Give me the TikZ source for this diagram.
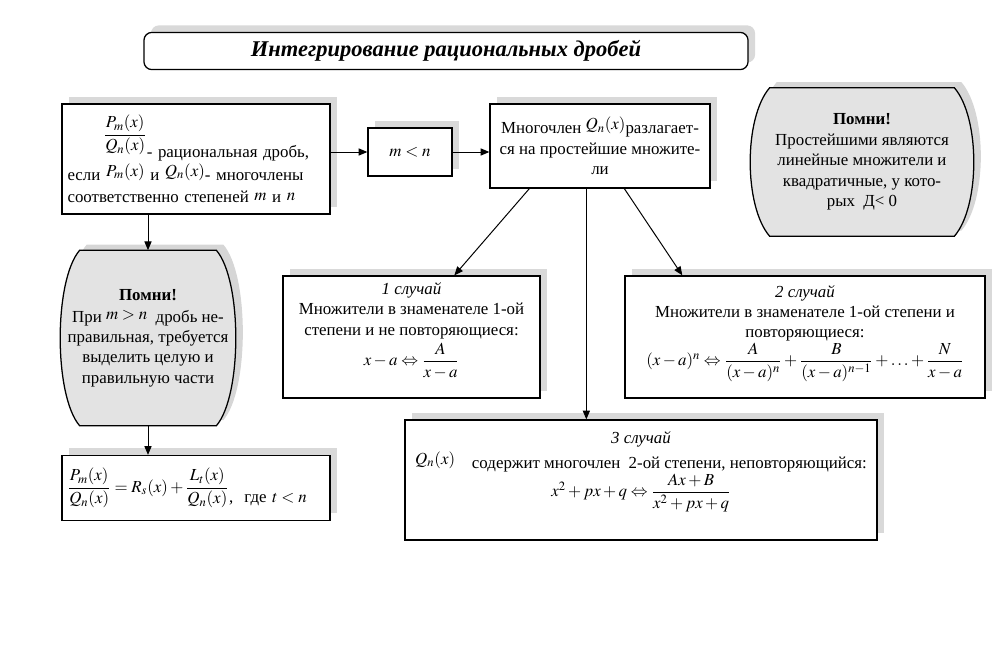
\documentclass[tikz,border=0pt]{standalone}
\usepackage{amsmath}
\usepackage{mathptmx}
\usepackage{fontspec}
\setmainfont{Liberation Serif}
\usetikzlibrary{positioning,arrows.meta,calc,shadows}
\pgfdeclarelayer{background}
\pgfsetlayers{background,main}
\tikzset{
  flowarrow/.style={-{Triangle[length=2.2mm,width=1.8mm]}, line width=0.7pt},
  boxshadow/.style={general shadow={fill=gray!30, shadow xshift=5pt, shadow yshift=5pt}},
  titlebox/.style={draw, rounded corners=2mm, line width=0.9pt, fill=white, boxshadow, minimum width=15.1cm, minimum height=0.93cm, font=\fontsize{16}{18}\selectfont\bfseries\itshape},
  infobox/.style={draw, line width=0.9pt, fill=white, boxshadow, align=center},
  leftbox/.style={infobox, align=left, text width=6.42cm, inner sep=4pt},
  notetext/.style={align=center, inner sep=0pt},
  barrelfill/.style={draw, line width=0.9pt, fill=gray!22},
  barrelshadow/.style={fill=gray!32, transform canvas={xshift=5pt,yshift=4pt}}
}
% barrel outline round a named node
\newcommand{\barrelpath}[1]{($(#1.north west)+(14,0)$) -- ($(#1.north east)+(-14,0)$)
  .. controls ($(#1.north east)+(12,30)$) and ($(#1.south east)+(12,-30)$) .. ($(#1.south east)+(-14,0)$)
  -- ($(#1.south west)+(14,0)$)
  .. controls ($(#1.south west)+(-12,-30)$) and ($(#1.north west)+(-12,30)$) .. ($(#1.north west)+(14,0)$) -- cycle}
\newcommand{\raisedm}[1]{\raisebox{3pt}{$#1$}}

\begin{document}
\begin{tikzpicture}[x=0.025cm, y=-0.025cm, every node/.style={font=\fontsize{12}{14.5}\selectfont}]
  \useasboundingbox (0,0) rectangle (996,646);

  \node[titlebox] (title) at (446,51) {Интегрирование рациональных дробей};

  % top row
  \node[leftbox, minimum height=2.75cm, font=\fontsize{12}{16}\selectfont] (def) at (196,159)
    {\hspace*{0.9cm}\raisebox{2.4ex}{$\dfrac{P_m(x)}{Q_n(x)}$}- рациональная дробь,\\
     если \raisedm{P_m(x)} и \raisedm{Q_n(x)}- многочлены\\
     соответственно степеней \raisebox{1.5pt}{$m$} и \raisebox{1.5pt}{$n$}};
  \node[infobox, minimum width=2.1cm, minimum height=1.2cm] (mn) at (410,152) {$m<n$};
  \node[infobox, minimum width=5.5cm, minimum height=2.1cm] (mid) at (600,146)
    {Многочлен \raisedm{Q_n(x)}разлагает-\\ся на простейшие множите-\\ли};

  \node[notetext, minimum width=5.3cm, minimum height=3.7cm] (pr) at (862,162)
    {\textbf{Помни!}\\Простейшими являются\\линейные множители и\\квадратичные, у кото-\\рых\ \ Д< 0};

  % left column
  \node[notetext, minimum width=4.1cm, minimum height=4.375cm] (pl) at (148,338)
    {\textbf{Помни!}\\[1pt]При \raisebox{2pt}{$m>n$}\ \ дробь не-\\правильная, требуется\\выделить целую и\\правильную части};
  \node[leftbox, minimum height=1.625cm] (res) at (196,488)
    {$\dfrac{P_m(x)}{Q_n(x)}=R_s(x)+\dfrac{L_t(x)}{Q_n(x)}$\raisebox{-1.3ex}{,\ \ где\ $t<n$}};

  % cases
  \node[infobox, minimum width=6.425cm, minimum height=3.05cm] (c1) at (411.5,337)
    {\textit{1 случай}\\Множители в знаменателе 1-ой\\степени и не повторяющиеся:\\[2pt]
     $x-a\Leftrightarrow\dfrac{A}{x-a}$\\[4pt]};
  \node[infobox, minimum width=9cm, minimum height=3.05cm] (c2) at (805,337)
    {\textit{2 случай}\\Множители в знаменателе 1-ой степени и\\повторяющиеся:\\
     $(x-a)^n\Leftrightarrow\dfrac{A}{(x-a)^n}+\dfrac{B}{(x-a)^{n-1}}+\ldots+\dfrac{N}{x-a}$\\[2pt]};
  \node[infobox, minimum width=11.8cm, minimum height=3cm] (c3) at (641,480)
    {\textit{3 случай}\\[2pt]
     \raisedm{Q_n(x)}\quad содержит многочлен\ \ 2-ой степени, неповторяющийся:\\
     $x^2+px+q\Leftrightarrow\dfrac{Ax+B}{x^2+px+q}$\\[8pt]};

  % barrel outlines behind the notes
  \begin{pgfonlayer}{background}
    \fill[barrelshadow] \barrelpath{pr};
    \draw[barrelfill] \barrelpath{pr};
    \fill[barrelshadow] \barrelpath{pl};
    \draw[barrelfill] \barrelpath{pl};
  \end{pgfonlayer}

  % connectors
  \draw[flowarrow] (mn.west -| def.east) -- (mn.west);
  \draw[flowarrow] (mn.east) -- (mn.east -| mid.west);
  \draw[flowarrow] (def.south -| pl.north) -- (pl.north);
  \draw[flowarrow] (pl.south) -- (res.north -| pl.south);
  \coordinate (fork1) at ($(mid.south west)+(40,0)$);
  \coordinate (fork2) at ($(mid.south west)+(97,0)$);
  \coordinate (fork3) at ($(mid.south west)+(135,0)$);
  \draw[flowarrow] (fork1) -- ($(c1.north west)+(172,0)$);
  \draw[flowarrow] (fork2) -- (fork2 |- c3.north);
  \draw[flowarrow] (fork3) -- ($(c2.north west)+(58,0)$);
\end{tikzpicture}
\end{document}
